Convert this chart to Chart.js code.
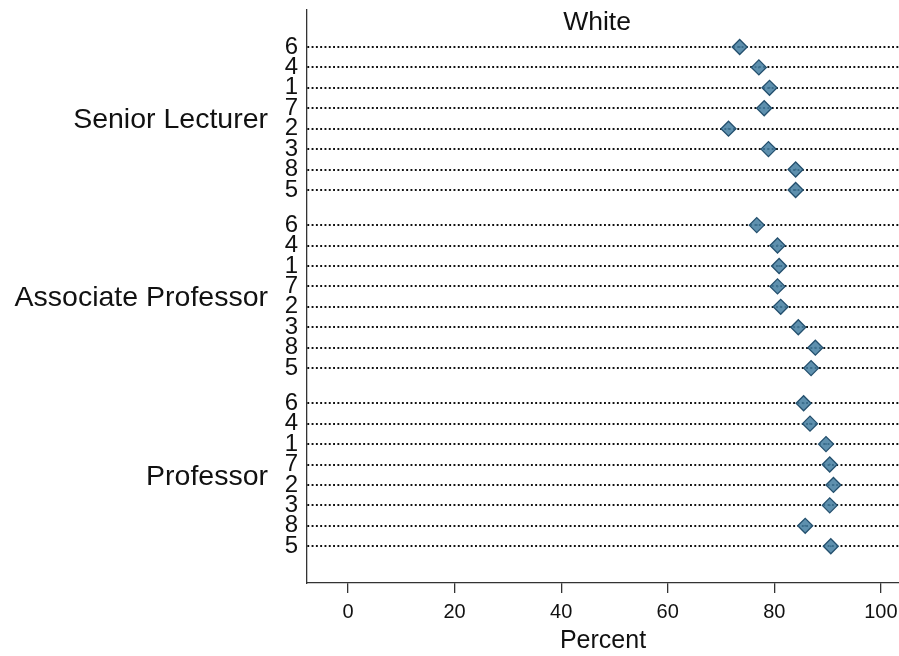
<!DOCTYPE html>
<html>
<head>
<meta charset="utf-8">
<script src="https://cdn.jsdelivr.net/npm/chart.js@4"></script>
<style>
  html, body { margin: 0; padding: 0; background: #fff; }
  #wrap { width: 899px; height: 656px; }
</style>
</head>
<body>
<div id="wrap"><canvas id="chart"></canvas></div>
<script>
(() => {

  // Data
  const groups = ['Senior Lecturer', 'Associate Professor', 'Professor'];
  const itemLabels = ['6', '4', '1', '7', '2', '3', '8', '5'];
  const seniorLecturer = [73.5, 77.1, 79.1, 78.1, 71.4, 78.9, 84.0, 84.0];
  const associateProfessor = [76.7, 80.6, 80.9, 80.6, 81.2, 84.5, 87.7, 86.9];
  const professor = [85.5, 86.7, 89.7, 90.4, 91.1, 90.4, 85.8, 90.6];
  const xTicks = [0, 20, 40, 60, 80, 100];
  const title = 'White';
  const xTitle = 'Percent';

  const groupValues = [seniorLecturer, associateProfessor, professor];
  const groupStep = itemLabels.length - 1 + 1.72; // extra gap between groups

  const points = [];
  const rowTicks = [];
  groupValues.forEach((vals, g) => {
    vals.forEach((v, i) => {
      const y = g * groupStep + i;
      points.push({ x: v, y: y });
      rowTicks.push({ value: y, label: itemLabels[i] });
    });
  });
  const lastRow = rowTicks[rowTicks.length - 1].value;

  const font = "'Liberation Sans', Arial, sans-serif";

  // group names and title drawn on top
  const extras = {
    id: 'extras',
    afterDraw(chart) {
      const ctx = chart.ctx;
      const ys = chart.scales.y;
      ctx.save();
      ctx.fillStyle = '#111';
      ctx.font = '28.5px ' + font;
      ctx.textAlign = 'right';
      ctx.textBaseline = 'middle';
      groups.forEach((name, g) => {
        const mid = g * groupStep + (itemLabels.length - 1) / 2;
        ctx.fillText(name, 268, ys.getPixelForValue(mid) + 2);
      });
      ctx.font = '26.5px ' + font;
      ctx.textAlign = 'center';
      ctx.fillText(title, 597, 23);
      ctx.restore();
    }
  };

  new Chart(document.getElementById('chart'), {
    type: 'scatter',
    data: {
      datasets: [{
        data: points,
        pointStyle: 'rectRot',
        pointRadius: 7.5,
        pointHoverRadius: 7.5,
        backgroundColor: 'rgba(66, 124, 160, 0.85)',
        borderColor: '#24506e',
        borderWidth: 1.3
      },
      {
        data: points,
        pointStyle: 'circle',
        pointRadius: 1,
        backgroundColor: '#1a2a36',
        borderWidth: 0
      }]
    },
    options: {
      responsive: true,
      maintainAspectRatio: false,
      animation: false,
      layout: { autoPadding: false, padding: { top: 10, right: 0, left: 0, bottom: 0 } },
      plugins: {
        legend: { display: false },
        tooltip: { enabled: false }
      },
      scales: {
        x: {
          type: 'linear',
          min: -7.7,
          max: 103.4,
          afterBuildTicks: (axis) => {
            axis.ticks = xTicks.map(v => ({ value: v }));
          },
          afterFit: (axis) => {
            axis.height = 73;
            axis.paddingLeft = 0;
            axis.paddingRight = 0;
          },
          ticks: {
            color: '#111',
            font: { family: font, size: 20 },
            padding: 7
          },
          grid: {
            drawOnChartArea: false,
            drawTicks: true,
            tickLength: 10,
            color: '#333',
            lineWidth: 1.3
          },
          border: { display: true, color: '#333', width: 1.3 },
          title: {
            display: true,
            text: xTitle,
            color: '#111',
            font: { family: font, size: 25 },
            padding: { top: 0, bottom: 0 }
          }
        },
        y: {
          type: 'linear',
          reverse: true,
          min: -1.81,
          max: lastRow + 1.8,
          afterBuildTicks: (axis) => {
            axis.ticks = rowTicks.map(t => ({ value: t.value }));
          },
          afterFit: (axis) => {
            axis.width = 307;
            axis.paddingTop = 0;
            axis.paddingBottom = 0;
          },
          ticks: {
            autoSkip: false,
            color: '#111',
            font: { family: font, size: 24 },
            padding: 9,
            callback: (value, index) => rowTicks[index].label
          },
          grid: {
            drawTicks: false,
            color: '#111',
            lineWidth: 1.9
          },
          border: { display: true, color: '#333', width: 1.3, dash: [1.9, 2.4] }
        }
      }
    },
    plugins: [extras]
  });

})();
</script>
</body>
</html>
